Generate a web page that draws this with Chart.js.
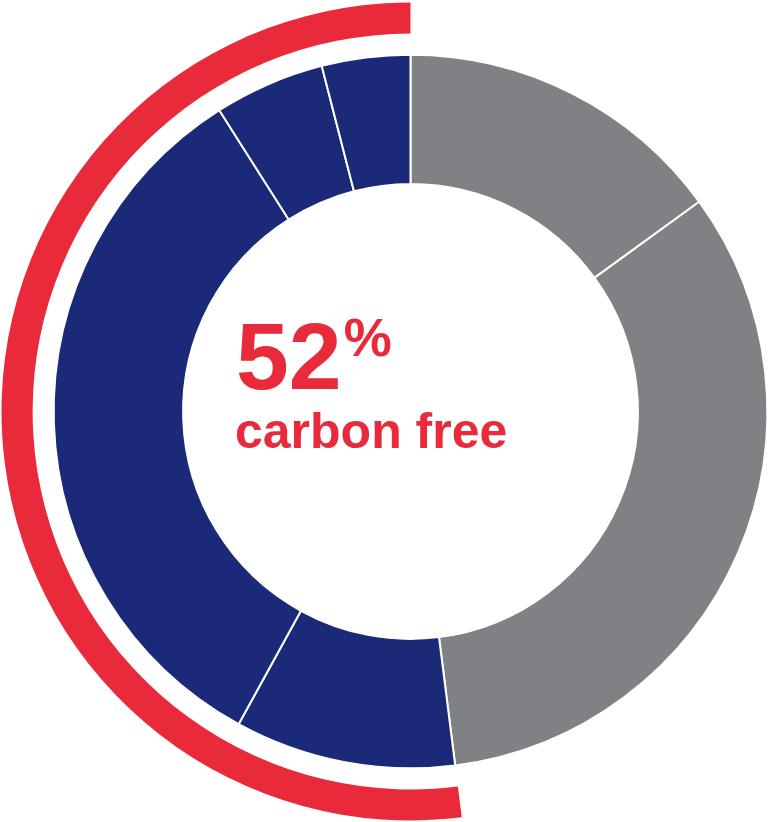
<!DOCTYPE html>
<html>
<head>
<meta charset="utf-8">
<script src="https://cdn.jsdelivr.net/npm/chart.js@4"></script>
<style>
    html, body { margin: 0; padding: 0; background: #ffffff; overflow: hidden; width: 775px; height: 822px; }
    #wrap { position: absolute; left: 0; top: 0; width: 822px; height: 822px; }
</style>
</head>
<body>
<div id="wrap"><canvas id="donut" width="822" height="822"></canvas></div>
<script>
    // Energy mix shares, clockwise from 12 o'clock (percent)
    const sourceLabels = ['Gray A', 'Gray B', 'Blue A', 'Blue B', 'Blue C', 'Blue D'];
    const sourceValues = [15, 33, 10, 33, 5, 4];

    // Outer red arc: non carbon-free vs carbon-free share
    const arcLabels = ['Other', 'Carbon free'];
    const arcValues = [48, 52];

    const headline = '52';
    const headlineSup = '%';
    const subline = 'carbon free';

    const colors = {
        gray: '#808184',
        blue: '#1a2a78',
        red: '#e92a3a'
    };

    const sourceColors = [colors.gray, colors.gray, colors.blue, colors.blue, colors.blue, colors.blue];

    // Draws the centre text
    const centerText = {
        id: 'centerText',
        afterDraw(chart) {
            const ctx = chart.ctx;
            ctx.save();
            ctx.fillStyle = colors.red;
            ctx.textAlign = 'left';
            ctx.textBaseline = 'alphabetic';
            ctx.font = 'bold 95px "Liberation Sans", Arial, sans-serif';
            ctx.fillText(headline, 236, 389);
            const w = ctx.measureText(headline).width;
            ctx.font = 'bold 54px "Liberation Sans", Arial, sans-serif';
            ctx.fillText(headlineSup, 236 + w + 2, 356);
            ctx.font = 'bold 50px "Liberation Sans", Arial, sans-serif';
            ctx.fillText(subline, 235, 448);
            ctx.restore();
        }
    };

    new Chart(document.getElementById('donut'), {
        type: 'doughnut',
        data: {
            labels: sourceLabels,
            datasets: [
                {
                    label: 'arc',
                    data: arcValues,
                    backgroundColor: ['rgba(0,0,0,0)', colors.red],
                    borderWidth: 0,
                    weight: 31
                },
                {
                    label: 'gap',
                    data: [1],
                    backgroundColor: ['rgba(0,0,0,0)'],
                    borderWidth: 0,
                    weight: 21
                },
                {
                    label: 'sources',
                    data: sourceValues,
                    backgroundColor: sourceColors,
                    borderColor: '#ffffff',
                    borderWidth: 2,
                    weight: 129
                }
            ]
        },
        options: {
            responsive: false,
            animation: false,
            cutout: '55.6%',
            layout: {
                padding: { left: 1.5, top: 2.5, right: 2.5, bottom: 1.5 }
            },
            plugins: {
                legend: { display: false },
                tooltip: { enabled: false }
            },
            events: []
        },
        plugins: [centerText]
    });
</script>
</body>
</html>
